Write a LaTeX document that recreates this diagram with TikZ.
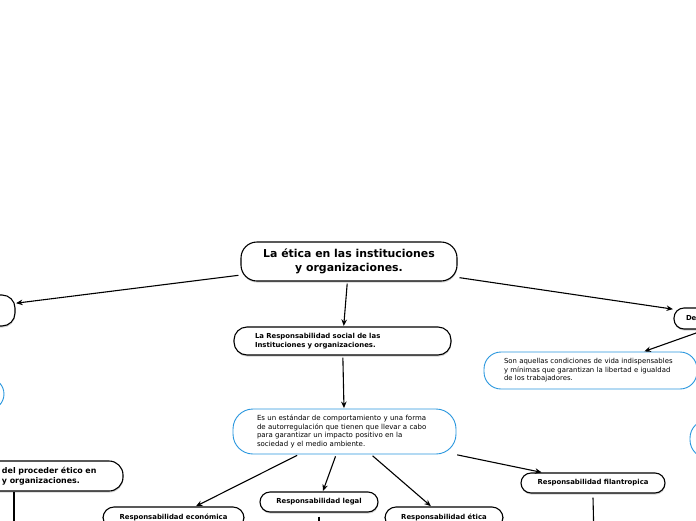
\documentclass[tikz,border=0pt]{standalone}
\usepackage{fontspec}
\setmainfont{DejaVu Sans}
\usetikzlibrary{arrows.meta,shadows,calc}
\definecolor{bluebd}{RGB}{40,150,222}
\begin{document}
\begin{tikzpicture}[x=1pt,y=-1pt,
 blk/.style={draw=black, line width=1.1pt, fill=white, inner sep=0pt,
   drop shadow={shadow xshift=0.4pt, shadow yshift=-1.6pt, opacity=0.35}},
 blu/.style={draw=bluebd, line width=0.9pt, fill=white, inner sep=0pt},
 sb/.style={font=\fontsize{6.9}{8.6}\selectfont\bfseries},
 sr/.style={font=\fontsize{7.0}{8.6}\selectfont},
 arr/.style={-{Stealth[length=6.5pt,width=5.5pt]}, line width=1.1pt, shorten >=0.5pt, shorten <=2pt},
 ln/.style={line width=1.1pt}]
\useasboundingbox (0,0) rectangle (696,520);
\clip (0,0) rectangle (696,520);

% main title
\node[blk, rounded corners=16pt, minimum width=216pt, minimum height=39pt, align=center,
  font=\fontsize{10.9}{14}\selectfont\bfseries] (title) at (349,261.5)
  {La ética en las instituciones\\y organizaciones.};

% clipped left node
\node[blk, rounded corners=13pt, minimum width=115pt, minimum height=31pt] (left) at (-42.5,310.5) {};

% clipped right node
\node[blk, sb, rounded corners=10pt, minimum width=126pt, minimum height=21pt,
  text width=102pt, inner xsep=12pt, align=left] (de) at (737,318.5) {De};

% responsabilidad social
\node[blk, sb, rounded corners=13pt, minimum width=217pt, minimum height=28pt,
  text width=175pt, inner xsep=21pt, align=left] (rs) at (342.5,341)
  {La Responsabilidad social de las\\Instituciones y organizaciones.};

% blue definition
\node[blu, sr, rounded corners=20pt, minimum width=223pt, minimum height=45pt,
  text width=175pt, inner xsep=24pt, align=left] (def) at (344.5,431.5)
  {Es un estándar de comportamiento y una forma\\de autorregulación que tienen que llevar a cabo\\para garantizar un impacto positivo en la\\sociedad y el medio ambiente.};

% son aquellas
\node[blu, sr, rounded corners=17pt, minimum width=213pt, minimum height=37pt,
  text width=180pt, inner xsep=16.5pt, align=left, font=\fontsize{6.9}{8.5}\selectfont] (son) at (590.5,370.5)
  {\hspace*{3.5pt}Son aquellas condiciones de vida indispensables\\\hspace*{3.5pt}y mínimas que garantizan la libertad e igualdad\\\hspace*{3.5pt}de los trabajadores.};

% clipped blue nodes
\node[blu, rounded corners=18pt, minimum width=200pt, minimum height=38pt] (rblue) at (790,439) {};
\node[blu, rounded corners=16pt, minimum width=208pt, minimum height=32pt] (lblue) at (-100,394) {};

% proceder
\node[blk, rounded corners=14pt, minimum width=223pt, minimum height=30pt, align=left,
  font=\fontsize{7.9}{10.5}\selectfont\bfseries, text width=209pt, inner xsep=7pt] (proc) at (11.5,476)
  {\hspace*{95pt}del proceder ético en\\\hspace*{95pt}y organizaciones.};

% responsabilidades
\node[blk, sb, rounded corners=11pt, minimum width=141pt, minimum height=21pt] (econ) at (173.5,517.5) {Responsabilidad económica};
\node[blk, sb, rounded corners=10pt, minimum width=118pt, minimum height=20pt] (legal) at (319,502) {Responsabilidad legal};
\node[blk, sb, rounded corners=11pt, minimum width=118pt, minimum height=21pt] (etica) at (444,517.5) {Responsabilidad ética};
\node[blk, sb, rounded corners=10pt, minimum width=144pt, minimum height=20pt] (filan) at (593,483) {Responsabilidad filantropica};

% free ends
\coordinate (legalEnd) at (319,540);
\coordinate (filanEnd) at (594,540);
\coordinate (procEnd) at (14,540);

% connectors
\draw[arr] (title) -- (left);
\draw[arr] (title) -- (de);
\draw[arr] (title) -- (rs);
\draw[arr] (rs) -- (def);
\draw[arr] (de) -- (son);
\draw[arr] (def) -- (econ);
\draw[arr] (def) -- (legal);
\draw[arr] (def) -- (etica);
\draw[arr] (def) -- (filan);
\draw[ln] ([yshift=-4pt]legal.south) -- (legalEnd);
\draw[ln] ([yshift=-4pt]filan.south) -- (filanEnd);
\draw[ln] (procEnd |- proc.south) -- (procEnd);
\end{tikzpicture}
\end{document}
